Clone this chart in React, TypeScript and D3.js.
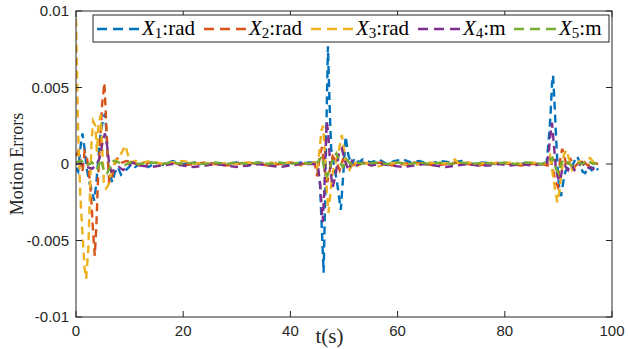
import * as d3 from 'd3'

const width = 628
const height = 349
const margin = { top: 11, right: 16, bottom: 32, left: 76 }
const innerWidth = width - margin.left - margin.right
const innerHeight = height - margin.top - margin.bottom

const xTicks = [0, 20, 40, 60, 80, 100]
const yTicks = [-0.01, -0.005, 0, 0.005, 0.01]
const yTickLabels = ['-0.01', '-0.005', '0', '0.005', '0.01']

const seriesNames = ['1', '2', '3', '4', '5']
const seriesUnits = ['rad', 'rad', 'rad', 'm', 'm']
const colors = ['#0072BD', '#D95319', '#EDB120', '#7E2F8E', '#77AC30']

// [t, error]
const x1Data: [number, number][] = [
  [0, -0.0003], [0.4, -0.0005], [0.8, 0.001], [1.2, 0.002], [1.6, 0.001], [2.0, -0.0003],
  [2.5, -0.0012], [3.0, -0.0018], [3.4, -0.0024], [3.8, -0.0012], [4.2, 0.0005], [4.6, 0.002],
  [5.0, 0.0028], [5.4, 0.0033], [5.7, 0.002], [6.0, 0.0], [6.4, -0.0008], [6.8, -0.0012],
  [7.2, -0.0006], [7.8, -0.0002], [8.4, -0.0007], [9.0, -0.0005], [9.6, -0.0003], [10.4, 0.0],
  [11, -0.0002], [12.5, 0.0001], [13.5, -0.0002], [15, 0.0001], [16.5, -0.0001], [18, 0.0002],
  [20, 0], [22, 0.0001], [24, -0.0001], [26, 0.0001], [28, 0], [30, 0.0001], [32, -0.0001],
  [34, 0.0001], [36, 0], [38, 0.0001], [40, -0.0001], [42, 0.0001], [44, 0.0001], [45, -0.0002],
  [45.5, -0.0012], [45.9, -0.0045], [46.2, -0.0071], [46.5, -0.002], [46.8, 0.004], [47.0, 0.0077],
  [47.3, 0.004], [47.6, 0.001], [48.2, -0.0002], [48.7, -0.0012], [49.4, -0.003], [49.9, -0.0005],
  [50.3, 0.0018], [50.8, 0.0006], [51.4, -0.0001], [52.0, 0.0004], [52.7, 0.0001], [53.5, 0.0003],
  [55, 0.0001], [56.5, 0.0003], [58, 0], [59.5, 0.0002], [61, 0.0003], [62.5, 0.0001], [64, 0.0002],
  [66, 0], [68, 0.0002], [70, 0.0001], [72, 0.0002], [74, 0], [76, 0.0001], [78, 0], [80, 0.0001],
  [82, -0.0001], [84, 0.0001], [86, 0], [87.8, 0.0001], [88.1, 0.0012], [88.5, 0.003], [88.8, 0.0052],
  [89.0, 0.0058], [89.3, 0.0038], [89.6, 0.0015], [89.9, -0.0005], [90.2, -0.0018], [90.5, -0.0021],
  [90.9, -0.0012], [91.3, -0.0005], [91.8, -0.0002], [92.4, -0.0003], [93.0, 0.0002], [93.5, 0.0005],
  [94.0, 0.0001], [94.5, -0.0005], [95.0, -0.0006], [95.6, -0.0002], [96.2, -0.0004], [96.8, -0.0001],
  [97.4, -0.0004],
]

const x2Data: [number, number][] = [
  [0, 0.0005], [0.4, 0.0008], [0.8, 0.0003], [1.2, -0.0005], [1.6, 0.0008], [2.0, 0.0005],
  [2.4, -0.0005], [2.8, -0.002], [3.2, -0.0045], [3.5, -0.006], [3.8, -0.004], [4.1, -0.001],
  [4.5, 0.0015], [4.9, 0.004], [5.3, 0.0053], [5.6, 0.003], [5.9, 0.0005], [6.2, -0.0012],
  [6.6, -0.001], [7.0, -0.0004], [7.5, 0.0003], [8.0, 0.0004], [8.6, 0.0001], [9.5, 0.0002],
  [10.5, 0.0001], [12, -0.0001], [14, 0.0001], [16, 0], [18, 0.0001], [20, -0.0001], [22, 0],
  [24, 0.0001], [26, 0], [28, -0.0001], [30, 0], [32, 0.0001], [34, 0], [36, -0.0001], [38, 0],
  [40, 0.0001], [42, 0], [44.5, 0.0001], [45.0, -0.0008], [45.5, 0.0006], [45.9, 0.0011],
  [46.4, -0.0004], [46.9, -0.0012], [47.4, -0.0003], [47.9, 0.0005], [48.5, 0.0002], [49.2, -0.0004],
  [49.8, 0.0003], [50.6, 0.0001], [51.5, -0.0001], [53, 0.0001], [55, 0], [57, 0.0001], [59, -0.0001],
  [61, 0], [63, 0.0001], [65, 0], [67, -0.0001], [69, 0], [71, 0.0001], [73, 0], [75, -0.0001],
  [77, 0], [79, 0.0001], [81, 0], [83, -0.0001], [85, 0], [87, 0], [88.0, -0.0001], [88.5, 0.0004],
  [89.0, -0.0004], [89.5, -0.0012], [89.9, -0.0015], [90.3, 0.0002], [90.7, 0.001], [91.1, 0.0005],
  [91.6, -0.0002], [92.3, 0.0003], [93.0, -0.0002], [93.8, 0.0001], [94.6, 0.0002], [95.5, -0.0001],
  [96.4, 0.0001], [97.4, 0],
]

const x3Data: [number, number][] = [
  [0, 0.0095], [0.4, 0.002], [0.8, -0.002], [1.2, -0.0045], [1.6, -0.0068], [1.9, -0.0075],
  [2.3, -0.0055], [2.6, -0.002], [2.9, 0.0015], [3.2, 0.0028], [3.6, 0.0025], [3.9, 0.0008],
  [4.2, 0.0025], [4.6, 0.0032], [4.9, 0.001], [5.2, -0.0012], [5.6, -0.0016], [6.0, -0.0014],
  [6.4, -0.0008], [6.8, -0.0003], [7.3, 0.0002], [7.8, 0.0003], [8.6, 0.0008], [9.2, 0.0012],
  [9.7, 0.0006], [10.3, 0.0001], [11, 0.0002], [12.5, 0.0001], [14, 0.0002], [16, 0], [18, 0.0001],
  [20, 0.0002], [22, 0], [24, 0.0001], [26, -0.0001], [28, 0.0001], [30, 0], [32, 0.0001], [34, 0],
  [36, 0.0001], [38, 0], [40, 0.0001], [42, -0.0001], [44.5, 0.0001], [45.0, -0.0003], [45.4, 0.0008],
  [45.8, 0.0022], [46.1, 0.0025], [46.4, 0.001], [46.8, -0.0018], [47.1, -0.0032], [47.5, -0.0018],
  [47.9, -0.0005], [48.4, 0.0], [49.0, 0.0008], [49.6, 0.0019], [50.0, 0.0009], [50.5, -0.0003],
  [51.0, -0.0004], [51.8, 0.0002], [52.6, -0.0001], [54, 0.0001], [56, -0.0002], [58, 0], [60, 0.0001],
  [62, -0.0001], [64, 0], [66, 0.0001], [68, 0], [70, 0.0001], [70.7, 0.0003], [71.5, 0], [73, 0.0001],
  [75, 0], [77, 0.0001], [79, 0], [81, 0.0001], [83, 0], [85, 0.0001], [87, 0], [88.0, 0.0001],
  [88.4, 0.0005], [88.8, -0.0003], [89.3, -0.0015], [89.8, -0.0025], [90.2, -0.0018], [90.6, -0.0005],
  [91.0, 0.0006], [91.5, 0.0009], [92.0, 0.0003], [92.6, -0.0004], [93.2, -0.0002], [93.9, 0.0002],
  [94.6, 0.0001], [95.2, 0.0003], [95.9, 0.0004], [96.6, 0.0001], [97.4, 0.0002],
]

const x4Data: [number, number][] = [
  [0, 0], [1, 0.0001], [2, -0.0002], [3, -0.0003], [3.8, -0.0001], [4.4, 0.0004], [4.9, 0.0013],
  [5.4, 0.002], [5.8, 0.0012], [6.2, 0.0], [6.6, -0.0005], [7.2, -0.0004], [8, -0.0002], [8.8, -0.0004],
  [9.6, -0.0002], [10.5, 0.0001], [12, -0.0001], [14, -0.0002], [16, -0.0001], [18, 0], [20, -0.0001],
  [22, -0.0002], [24, -0.0001], [26, 0], [28, -0.0001], [30, -0.0002], [32, -0.0001], [34, 0],
  [36, -0.0001], [38, -0.0002], [40, -0.0001], [42, 0], [44.5, 0], [45.2, -0.0003], [45.6, -0.0015],
  [46.0, -0.0038], [46.3, -0.002], [46.6, 0.0012], [46.8, 0.0028], [47.1, 0.0018], [47.5, -0.0005],
  [47.9, -0.0015], [48.4, -0.0008], [49.0, 0.0006], [49.6, 0.001], [50.2, 0.0002], [50.8, -0.0004],
  [51.5, 0.0002], [52.3, -0.0001], [53.5, 0.0001], [55, -0.0001], [57, 0], [59, -0.0001], [61, -0.0002],
  [63, -0.0001], [65, 0], [67, -0.0001], [69, -0.0002], [71, -0.0001], [73, 0], [75, -0.0001],
  [77, -0.0001], [79, 0], [81, -0.0001], [83, 0], [85, -0.0001], [87, 0], [87.8, -0.0001], [88.2, 0.0008],
  [88.6, 0.0022], [88.8, 0.0027], [89.1, 0.0015], [89.5, -0.0002], [89.9, -0.0009], [90.3, -0.0011],
  [90.7, -0.0004], [91.2, -0.0001], [91.8, -0.0004], [92.4, 0.0], [93.0, -0.0004], [93.6, -0.0002],
  [94.4, 0.0001], [95.2, -0.0003], [96.0, -0.0002], [96.8, -0.0004], [97.4, -0.0002],
]

const x5Data: [number, number][] = [
  [0, 0.0001], [1, 0.0002], [2, -0.0001], [3, 0.0001], [4, -0.0003], [4.6, 0.0003], [5.2, -0.0004],
  [5.8, -0.0006], [6.4, -0.0002], [7, 0.0002], [8, 0.0001], [9, -0.0001], [10, 0.0001], [12, 0],
  [14, 0.0001], [16, 0], [18, 0.0001], [20, 0], [22, 0.0001], [24, 0], [26, 0.0001], [28, 0],
  [30, 0.0001], [32, 0], [34, 0.0001], [36, 0], [38, 0.0001], [40, 0], [42, 0.0001], [44.5, 0],
  [45.3, 0.0002], [45.9, 0.0005], [46.4, -0.0005], [46.9, -0.0008], [47.4, -0.0002], [48.0, 0.0004],
  [48.6, 0.0007], [49.2, 0.0001], [49.8, -0.0002], [50.5, 0.0003], [51.2, 0], [52, 0.0001], [54, 0],
  [56, 0.0001], [58, 0], [60, 0.0001], [62, 0], [64, 0.0001], [66, 0], [68, 0.0001], [70, 0],
  [72, 0.0001], [74, 0], [76, 0.0001], [78, 0], [80, 0.0001], [82, 0], [84, 0.0001], [87, 0],
  [88.2, 0.0002], [88.9, 0.0004], [89.5, -0.0003], [90.0, -0.0006], [90.5, 0.0], [91.0, 0.0003],
  [91.7, 0.0001], [92.5, -0.0001], [93.5, 0.0001], [94.5, 0], [95.5, 0.0002], [96.5, 0], [97.4, 0.0001],
]

const allSeries = [x1Data, x2Data, x3Data, x4Data, x5Data]

// legend entry offsets from legend left edge
const legendOffsets = [4, 111, 218, 325, 421]

export default function App() {
  const x = d3.scaleLinear().domain([0, 100]).range([0, innerWidth])
  const y = d3.scaleLinear().domain([-0.01, 0.01]).range([innerHeight, 0])
  const line = d3.line<[number, number]>().x((d) => x(d[0])).y((d) => y(d[1]))
  const tick = 6
  const axisColor = '#262626'

  return (
    <svg width={width} height={height} style={{ position: 'absolute', left: 0, top: 0 }}>
      <rect width={width} height={height} fill="#fff" />
      <defs>
        <clipPath id="plot">
          <rect x={0} y={0} width={innerWidth} height={innerHeight} />
        </clipPath>
      </defs>
      <g transform={`translate(${margin.left},${margin.top})`}>
        <g clipPath="url(#plot)">
          {allSeries.map((data, i) => (
            <path
              key={i}
              d={line(data) || ''}
              fill="none"
              stroke={colors[i]}
              strokeWidth={2.4}
              strokeDasharray="8,5"
            />
          ))}
        </g>
        <rect x={0} y={0} width={innerWidth} height={innerHeight} fill="none" stroke={axisColor} strokeWidth={1} />
        {xTicks.map((t) => (
          <g key={t}>
            <line x1={x(t)} x2={x(t)} y1={innerHeight} y2={innerHeight - tick} stroke={axisColor} />
            <line x1={x(t)} x2={x(t)} y1={0} y2={tick} stroke={axisColor} />
            <text
              x={x(t)}
              y={innerHeight + 19}
              textAnchor="middle"
              fontFamily="Liberation Sans, Arial, sans-serif"
              fontSize={15}
              fill={axisColor}
            >
              {t}
            </text>
          </g>
        ))}
        {yTicks.map((v, i) => (
          <g key={v}>
            <line x1={0} x2={tick} y1={y(v)} y2={y(v)} stroke={axisColor} />
            <line x1={innerWidth} x2={innerWidth - tick} y1={y(v)} y2={y(v)} stroke={axisColor} />
            <text
              x={-7}
              y={y(v) + 5}
              textAnchor="end"
              fontFamily="Liberation Sans, Arial, sans-serif"
              fontSize={15}
              fill={axisColor}
            >
              {yTickLabels[i]}
            </text>
          </g>
        ))}
        <text
          x={x(47.3)}
          y={innerHeight + 26}
          textAnchor="middle"
          fontFamily="Liberation Serif, serif"
          fontSize={21}
          fill={axisColor}
        >
          t(s)
        </text>
        <text
          transform={`translate(${-53},${innerHeight / 2}) rotate(-90)`}
          textAnchor="middle"
          fontFamily="Liberation Serif, serif"
          fontSize={18}
          fill={axisColor}
        >
          Motion Errors
        </text>
        <g transform={`translate(${17},${4})`}>
          <rect x={0} y={0} width={516} height={27} fill="#fff" stroke={axisColor} strokeWidth={1} />
          {seriesNames.map((n, i) => (
            <g key={n} transform={`translate(${legendOffsets[i]},0)`}>
              <line x1={0} x2={42} y1={14} y2={14} stroke={colors[i]} strokeWidth={2.4} strokeDasharray="10,6" />
              <text
                x={45}
                y={20}
                fontFamily="Liberation Serif, serif"
                fontSize={21}
                fill="#000"
              >
                <tspan fontStyle="italic">X</tspan>
                <tspan fontSize={15} dy={3}>{n}</tspan>
                <tspan dy={-3}>:{seriesUnits[i]}</tspan>
              </text>
            </g>
          ))}
        </g>
      </g>
    </svg>
  )
}
